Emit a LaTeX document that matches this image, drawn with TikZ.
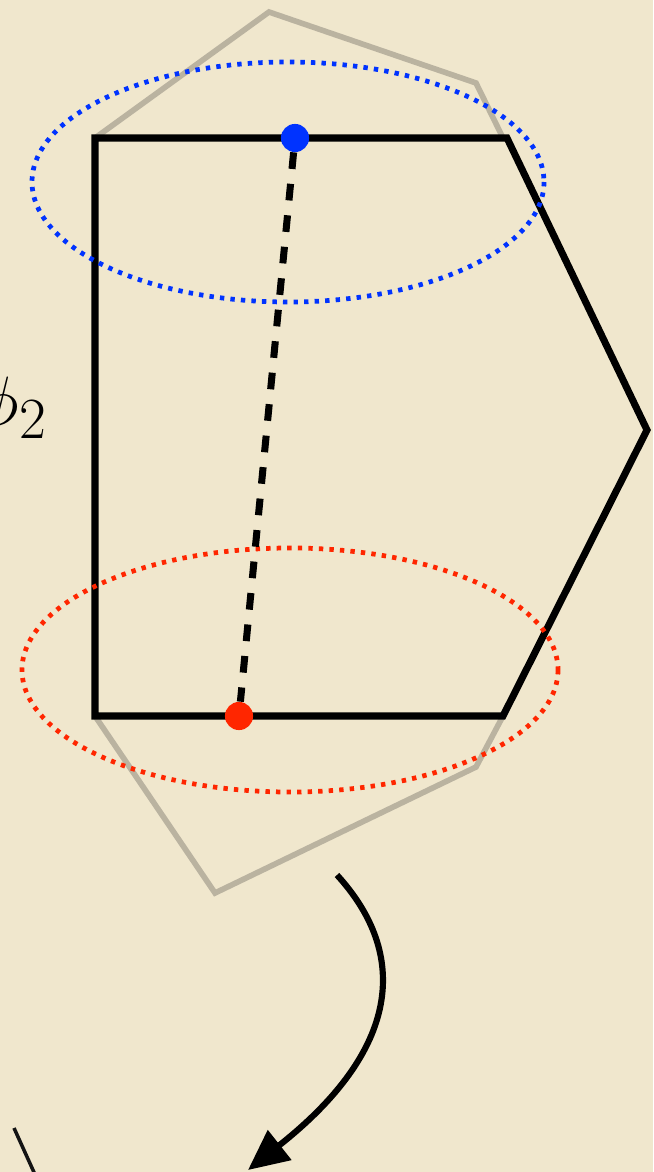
\documentclass[tikz,border=0pt]{standalone}
\usepackage{amsmath}
\usetikzlibrary{arrows.meta, calc}
\definecolor{mypaper}{RGB}{240,231,205}
\definecolor{myblue}{RGB}{0,51,255}
\definecolor{myred}{RGB}{255,38,0}
\definecolor{myghost}{RGB}{186,179,160}
\definecolor{mydark}{RGB}{20,20,20}
\tikzset{
  frame/.style={line width=4pt, color=black},
  ghost/.style={line width=3.2pt, color=myghost},
  blueloop/.style={line width=2.7pt, color=myblue, dash pattern=on 2.5pt off 3.5pt},
  redloop/.style={line width=2.7pt, color=myred, dash pattern=on 2.5pt off 3.5pt},
  bluedot/.style={circle, fill=myblue, inner sep=0pt, minimum size=16pt},
  reddot/.style={circle, fill=myred, inner sep=0pt, minimum size=16pt},
  link/.style={line width=4pt, color=black, dash pattern=on 9.5pt off 8.5pt},
  bigarrow/.style={-{Triangle[length=23pt, width=21pt]}, line width=3.5pt, color=black}
}

\begin{document}
\begin{tikzpicture}[x=0.02cm, y=-0.02cm]
  % --- PAPER ---
  \fill[mypaper] (0,0) rectangle (653,1172);
  \useasboundingbox (0,0) rectangle (653,1172);

  % --- ROTATED OUTLINE (faded) ---
  \draw[ghost] (95,138) -- (269,12) -- (476,83) -- (503,138);
  \draw[ghost] (95,716) -- (215,893) -- (476,767) -- (503,716);

  % --- OUTLINE ---
  \draw[frame] (95,138) -- (507,138) -- (647,430) -- (503,716) -- (95,716) -- cycle;

  % --- LOOPS ---
  \draw[blueloop] (288,182) ellipse [x radius=256, y radius=120];
  \draw[redloop] (290,670) ellipse [x radius=268, y radius=122];

  % --- END POINTS ---
  \node[bluedot] (top_pt) at (295,138) {};
  \node[reddot] (bot_pt) at (239,716) {};
  \draw[link] (top_pt) -- (bot_pt);

  \node[anchor=base west, inner sep=0pt, font=\fontsize{24.88}{30}\selectfont, scale=1.6] (phi_lbl) at (-22,425) {$\phi_2$};

  % --- ARROW ---
  \coordinate (arr_start) at (337,875);
  \coordinate (arr_end) at (248,1170);
  \draw[bigarrow] (arr_start) .. controls (410,955) and (400,1050) .. (arr_end);

  \coordinate (cut_a) at (14,1128);
  \coordinate (cut_b) at (42,1190);
  \draw[line width=2pt, color=mydark] (cut_a) -- (cut_b);
\end{tikzpicture}
\end{document}
